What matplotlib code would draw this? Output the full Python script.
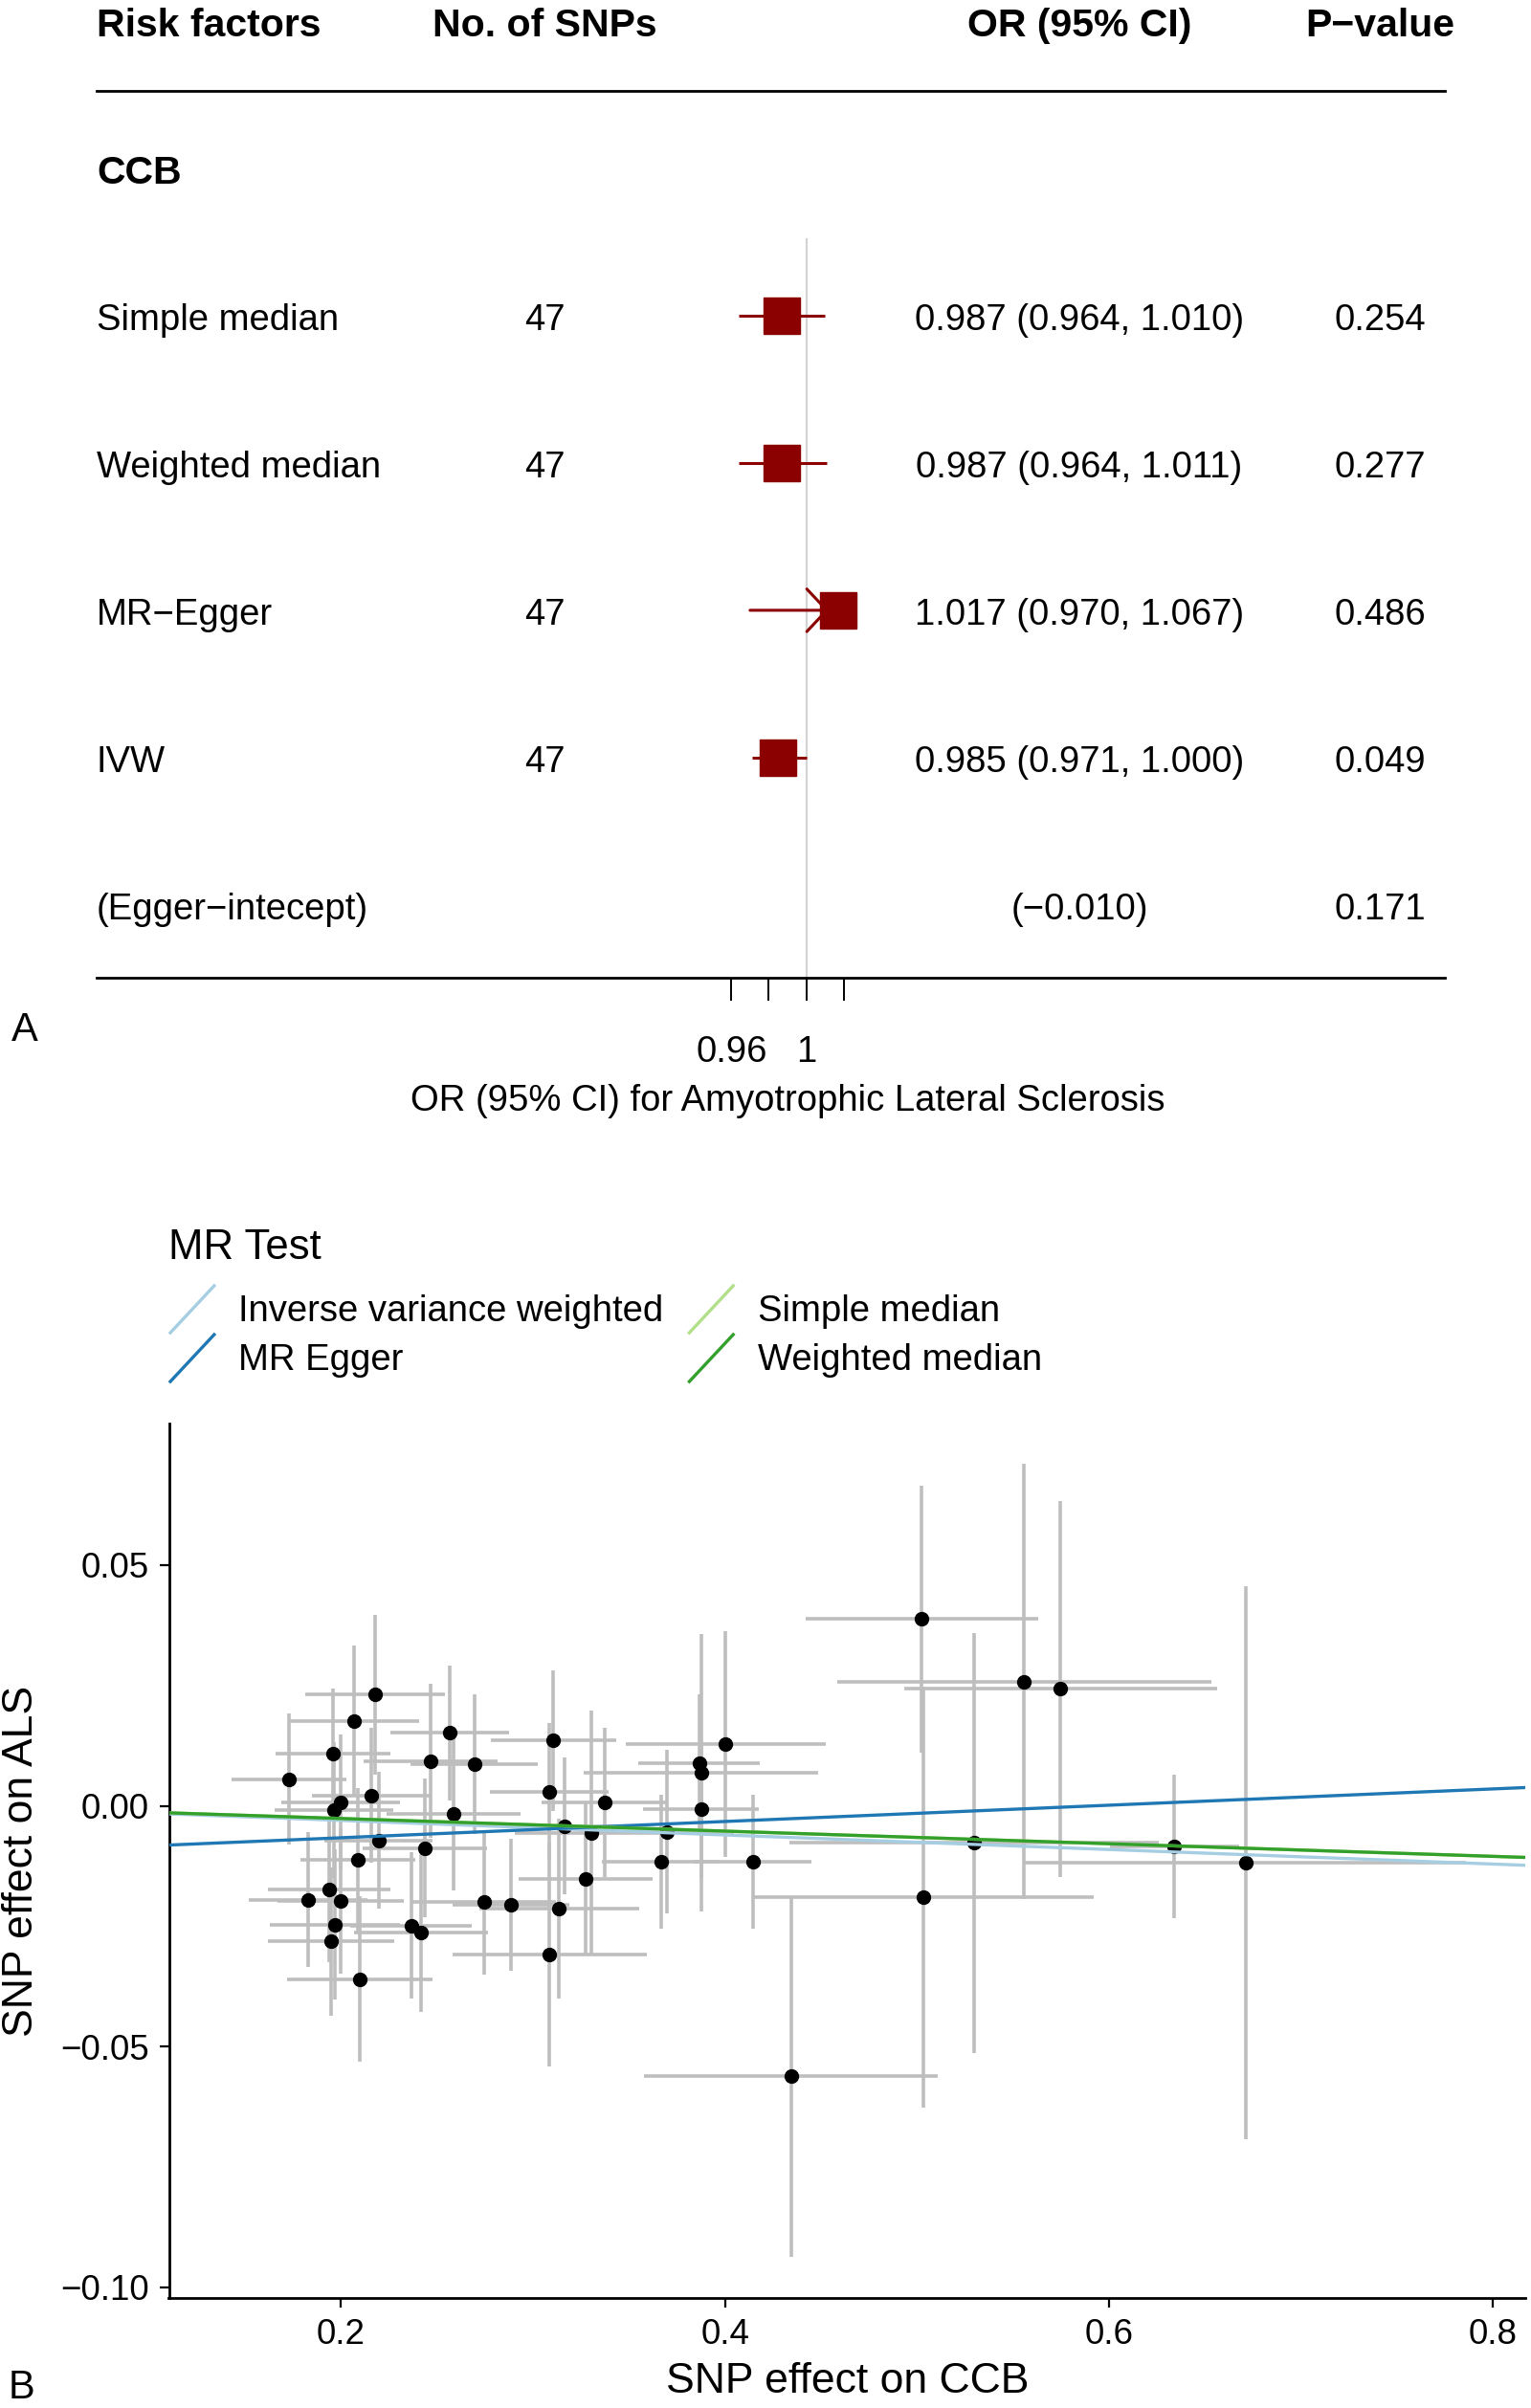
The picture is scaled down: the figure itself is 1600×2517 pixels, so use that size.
import matplotlib
matplotlib.use("Agg")
import matplotlib.pyplot as plt
from matplotlib.lines import Line2D
from matplotlib.legend_handler import HandlerBase
from matplotlib.transforms import blended_transform_factory

plt.rcParams["font.family"] = ["Liberation Sans", "DejaVu Sans"]

W, H = 1600, 2517

# ---------------- panel A: forest plot ----------------
exposure = "CCB"
methods = ["Simple median", "Weighted median", "MR\u2212Egger", "IVW"]
n_snps = [47, 47, 47, 47]
or_est = [0.987, 0.987, 1.017, 0.985]
or_lo = [0.964, 0.964, 0.970, 0.971]
or_hi = [1.010, 1.011, 1.067, 1.000]
p_vals = ["0.254", "0.277", "0.486", "0.049"]
egger_intercept = "(\u22120.010)"
egger_p = "0.171"
or_ticks = [0.96, 0.98, 1.00, 1.02]
or_tick_labels = ["0.96", "", "1", ""]
or_clip_hi = 1.012

# ---------------- panel B: SNP scatter ----------------
bx = [0.1728, 0.1958, 0.2067, 0.2178, 0.2159, 0.1998, 0.1964, 0.2466, 0.2566, 0.2694,
      0.2587, 0.3086, 0.3106, 0.3373, 0.3166, 0.3305, 0.3696, 0.4003, 0.3865, 0.3875,
      0.3875, 0.2195, 0.2438, 0.2087, 0.1938, 0.1828, 0.1998, 0.1968, 0.1948, 0.2098,
      0.2366, 0.2416, 0.2745, 0.2886, 0.3086, 0.3136, 0.3274, 0.3666, 0.4144, 0.4344,
      0.5026, 0.5559, 0.5748, 0.5300, 0.5035, 0.6342, 0.6711]
by = [0.0055, 0.0108, 0.0177, 0.0231, 0.0022, 0.0008, -0.0009, 0.0093, 0.0152, 0.0087,
      -0.0016, 0.0030, 0.0136, 0.0008, -0.0042, -0.0056, -0.0054, 0.0128, 0.0089, 0.0068,
      -0.0007, -0.0072, -0.0088, -0.0113, -0.0174, -0.0195, -0.0198, -0.0247, -0.0281, -0.0360,
      -0.0249, -0.0264, -0.0200, -0.0206, -0.0309, -0.0213, -0.0151, -0.0116, -0.0116, -0.0562,
      0.0388, 0.0258, 0.0243, -0.0077, -0.0190, -0.0085, -0.0118]
se_bx = [0.030, 0.030, 0.034, 0.0364, 0.031, 0.031, 0.031, 0.035, 0.031, 0.033,
         0.035, 0.031, 0.0325, 0.033, 0.032, 0.040, 0.035, 0.052, 0.0316, 0.061,
         0.030, 0.028, 0.0324, 0.030, 0.032, 0.031, 0.033, 0.034, 0.033, 0.038,
         0.0316, 0.035, 0.0375, 0.0305, 0.0505, 0.0415, 0.035, 0.0307, 0.0307, 0.0765,
         0.0608, 0.0976, 0.0816, 0.0962, 0.0885, 0.0337, 0.1147]
se_by = [0.0136, 0.0135, 0.0157, 0.0166, 0.0140, 0.0140, 0.0141, 0.0160, 0.0140, 0.0145,
         0.0160, 0.0143, 0.0146, 0.0155, 0.0142, 0.0254, 0.0170, 0.0234, 0.0143, 0.0288,
         0.0143, 0.0142, 0.0144, 0.0150, 0.0150, 0.0140, 0.0151, 0.0156, 0.0154, 0.0172,
         0.0152, 0.0163, 0.0150, 0.0137, 0.0232, 0.0187, 0.0156, 0.0140, 0.0140, 0.0375,
         0.0277, 0.0452, 0.0390, 0.0436, 0.0437, 0.0149, 0.0575]

mr_tests = ["Inverse variance weighted", "MR Egger", "Simple median", "Weighted median"]
mr_slopes = [-0.0151, 0.0169, -0.0131, -0.0131]
mr_intercepts = [0.0, -0.010, 0.0, 0.0]
mr_colors = ["#A6CEE3", "#1F78B4", "#B2DF8A", "#33A02C"]


class DiagHandler(HandlerBase):
    # ggplot-style abline key: a diagonal stroke across the key box
    def create_artists(self, legend, orig_handle, xdescent, ydescent, width, height,
                       fontsize, trans):
        ln = Line2D([-xdescent, -xdescent + width], [-ydescent, -ydescent + height],
                    color=orig_handle.get_color(), lw=orig_handle.get_linewidth(),
                    transform=trans)
        return [ln]


def fx(px):
    return px / W


def fy(py):
    return 1 - py / H


fig = plt.figure(figsize=(W / 100, H / 100), dpi=100)

# forest axes: full width, top 1200 px; x in OR units, y in row units
ax_f = fig.add_axes([0, fy(1200), 1, 1200 / H])
ax_f.set_axis_off()
px_per_or = 1960.0
or_at_px0 = 1 - 842.6 / px_per_or
ax_f.set_xlim(or_at_px0, or_at_px0 + W / px_per_or)
row_px0, row_step = 21.5, 154.1
ax_f.set_ylim((1200 - row_px0) / row_step, -row_px0 / row_step)

tr = blended_transform_factory(fig.transFigure, ax_f.transData)
body = 27.5
head = 29.5
dy = 0.033  # text sits a touch lower than the row centre
col_name, col_n, col_or, col_p = fx(101), fx(569), fx(1128), fx(1442)

ax_f.text(col_name, dy, "Risk factors", transform=tr, fontsize=head, fontweight="bold", va="center")
ax_f.text(col_n, dy, "No. of SNPs", transform=tr, fontsize=head, fontweight="bold", va="center", ha="center")
ax_f.text(col_or, dy, "OR (95% CI)", transform=tr, fontsize=head, fontweight="bold", va="center", ha="center")
ax_f.text(col_p, dy, "P\u2212value", transform=tr, fontsize=head, fontweight="bold", va="center", ha="center")
ax_f.text(col_name, 1 + dy, exposure, transform=tr, fontsize=head, fontweight="bold", va="center")

rows = [2, 3, 4, 5]
for k, m, n, e, lo, hi, p in zip(rows, methods, n_snps, or_est, or_lo, or_hi, p_vals):
    ax_f.text(col_name, k + dy, m, transform=tr, fontsize=body, va="center")
    ax_f.text(col_n, k + dy, str(n), transform=tr, fontsize=body, va="center", ha="center")
    ax_f.text(col_or, k + dy, f"{e:.3f} ({lo:.3f}, {hi:.3f})", transform=tr, fontsize=body,
              va="center", ha="center")
    ax_f.text(col_p, k + dy, p, transform=tr, fontsize=body, va="center", ha="center")
ax_f.text(col_name, 6 + dy, "(Egger\u2212intecept)", transform=tr, fontsize=body, va="center")
ax_f.text(col_or, 6 + dy, egger_intercept, transform=tr, fontsize=body, va="center", ha="center")
ax_f.text(col_p, 6 + dy, egger_p, transform=tr, fontsize=body, va="center", ha="center")

line_top, line_bot = 0.475, 6.495
ax_f.axhline(line_top, xmin=fx(101), xmax=fx(1510), color="black", lw=2.0)
ax_f.axhline(line_bot, xmin=fx(101), xmax=fx(1510), color="black", lw=2.0)
ax_f.vlines(1.0, 1.475, line_bot, color="#D3D3D3", lw=1.6, zorder=1)

dark = "#8B0000"
for k, lo, hi in zip(rows, or_lo, or_hi):
    if hi > or_clip_hi:
        ax_f.annotate("", xy=(or_clip_hi, k), xytext=(lo, k),
                      arrowprops=dict(arrowstyle="->,head_length=0.75,head_width=0.8",
                                      color=dark, lw=2.2, shrinkA=0, shrinkB=0,
                                      mutation_scale=20), zorder=2)
    else:
        ax_f.hlines(k, lo, hi, color=dark, lw=2.2, zorder=2)
ax_f.plot(or_est, rows, "s", ms=27.4, color=dark, mec=dark, zorder=3)

tick_len = 24 / row_step
ax_f.vlines(or_ticks, line_bot, line_bot + tick_len, color="black", lw=1.4)
for t, lab in zip(or_ticks, or_tick_labels):
    if lab:
        ax_f.text(t, 6.964 + dy, lab, fontsize=body, ha="center", va="center")
ax_f.text((or_ticks[0] + or_ticks[-1]) / 2, 7.297 + dy,
          "OR (95% CI) for Amyotrophic Lateral Sclerosis", fontsize=body, ha="center", va="center")
fig.text(fx(26), fy(1077), "A", fontsize=30, ha="center", va="center")

# scatter axes
ax = fig.add_axes([fx(176.5), fy(2402), fx(1594) - fx(176.5), (2402 - 1488) / H])
ax.errorbar(bx, by, yerr=se_by, fmt="none", ecolor="#BEBEBE", elinewidth=2.6, capsize=0, zorder=1)
ax.errorbar(bx, by, xerr=se_bx, fmt="none", ecolor="#BEBEBE", elinewidth=2.6, capsize=0, zorder=1)
ax.plot(bx, by, "o", color="black", ms=10, zorder=2)
handles = []
for name, b, a, c in zip(mr_tests, mr_slopes, mr_intercepts, mr_colors):
    ax.axline((0, a), slope=b, color=c, lw=2.4, zorder=3)
    handles.append(Line2D([], [], color=c, lw=2.4, label=name))

ax.set_xlim(0.1103, 0.8169)
ax.set_ylim(-0.1022, 0.0794)
ax.set_xticks([0.2, 0.4, 0.6, 0.8])
ax.set_xticklabels(["0.2", "0.4", "0.6", "0.8"])
ax.set_yticks([-0.10, -0.05, 0.0, 0.05])
ax.set_yticklabels(["\u22120.10", "\u22120.05", "0.00", "0.05"])
for s in ("top", "right"):
    ax.spines[s].set_visible(False)
for s in ("left", "bottom"):
    ax.spines[s].set_linewidth(2.0)
ax.tick_params(length=7.2, width=1.6, pad=8, labelsize=26.5)
ax.set_xlabel("SNP effect on CCB", fontsize=32, labelpad=8)
ax.set_ylabel("SNP effect on ALS", fontsize=32, labelpad=14)

fig.text(fx(176.5), fy(1305), "MR Test", fontsize=31.5, va="center")
fig.legend(handles=handles, handler_map={Line2D: DiagHandler()}, ncol=2,
           loc="upper left", bbox_to_anchor=(fx(178), fy(1344)), bbox_transform=fig.transFigure,
           frameon=False, fontsize=27.5, borderpad=0, borderaxespad=0,
           handlelength=1.2, handleheight=1.6, handletextpad=0.67,
           columnspacing=0.7, labelspacing=0.05)
fig.text(fx(22.5), fy(2496), "B", fontsize=30, ha="center", va="center")

fig.savefig("out.png", dpi=100)
